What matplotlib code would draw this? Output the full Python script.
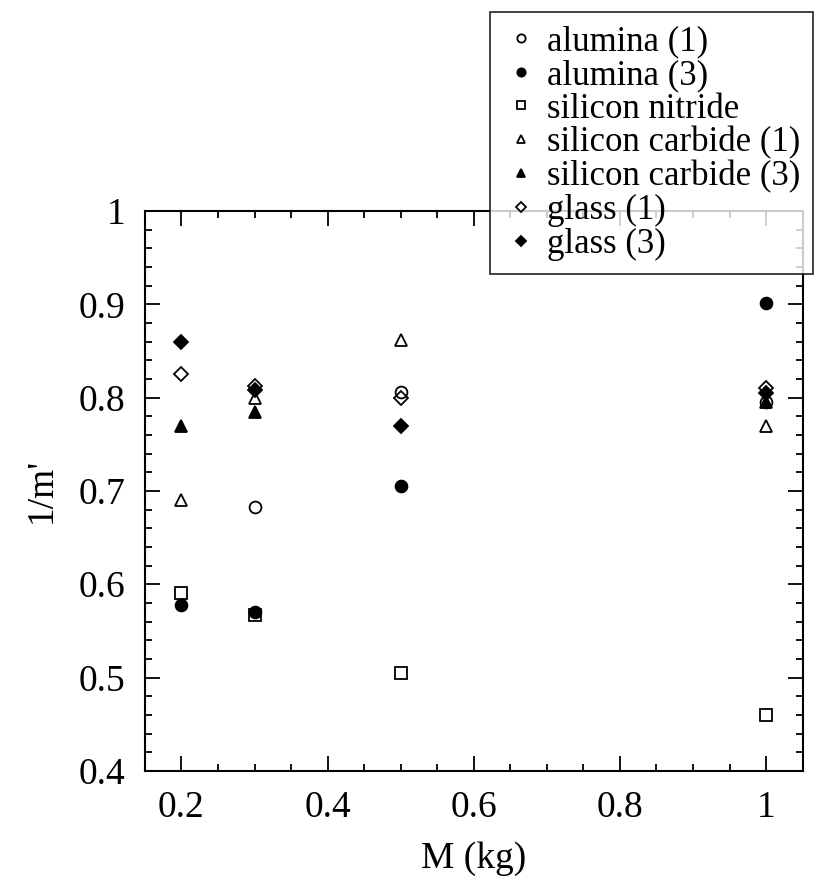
import numpy as np
import matplotlib
matplotlib.use('Agg')
import matplotlib.pyplot as plt
from matplotlib.ticker import MultipleLocator

plt.rcParams['font.family'] = ['Liberation Serif', 'DejaVu Serif']

# mass M (kg)
mass = [0.2, 0.3, 0.5, 1.0]

# 1/m' values (nan = not visible)
alumina_1 = [np.nan, 0.683, 0.806, 0.795]
alumina_3 = [0.578, 0.570, 0.705, 0.901]
silicon_nitride = [0.591, 0.567, 0.505, 0.460]
sic_1 = [0.690, 0.800, 0.862, 0.770]
sic_3 = [0.770, 0.785, np.nan, 0.795]
glass_1 = [0.825, 0.812, 0.800, 0.810]
glass_3 = [0.860, 0.808, 0.770, 0.805]

series = [
    ('alumina (1)', alumina_1, 'o', 'none'),
    ('alumina (3)', alumina_3, 'o', 'black'),
    ('silicon nitride', silicon_nitride, 's', 'none'),
    ('silicon carbide (1)', sic_1, '^', 'none'),
    ('silicon carbide (3)', sic_3, '^', 'black'),
    ('glass (1)', glass_1, 'D', 'none'),
    ('glass (3)', glass_3, 'D', 'black'),
]

fig = plt.figure(figsize=(8.19, 8.81), dpi=100)
ax = fig.add_axes([0.177, 0.125, 0.803, 0.6355])

for label, vals, mk, fc in series:
    ms = 7 if mk == 'D' else 8.5
    ax.plot(mass, vals, linestyle='none', marker=mk, markersize=ms,
            markerfacecolor=fc, markeredgecolor='black', markeredgewidth=1.3,
            color='black', label=label)

ax.set_xlim(0.15, 1.05)
ax.set_ylim(0.4, 1.0)
ax.xaxis.set_major_locator(MultipleLocator(0.2))
ax.xaxis.set_minor_locator(MultipleLocator(0.05))
ax.yaxis.set_major_locator(MultipleLocator(0.1))
ax.yaxis.set_minor_locator(MultipleLocator(0.02))
ax.xaxis.set_major_formatter(plt.FuncFormatter(lambda v, p: f'{v:g}'))
ax.yaxis.set_major_formatter(plt.FuncFormatter(lambda v, p: f'{v:g}'))

ax.tick_params(which='both', direction='in', top=True, right=True, width=1.3)
ax.tick_params(which='major', length=11, labelsize=27, pad=14)
ax.tick_params(which='minor', length=5)
for s in ax.spines.values():
    s.set_linewidth(1.5)

ax.set_xlabel('M (kg)', fontsize=27, labelpad=12)
ax.set_ylabel("1/m'", fontsize=27, labelpad=14)

leg = fig.legend(loc='upper left', bbox_to_anchor=(490 / 819, 1 - 12 / 881),
                 borderaxespad=0, fontsize=25, markerscale=0.7,
                 handlelength=1.0, handletextpad=0.25, labelspacing=0.02,
                 borderpad=0.38, frameon=True, fancybox=False,
                 edgecolor='black')
leg.get_frame().set_linewidth(1.3)
leg.set_zorder(5)

fig.savefig('out.png', dpi=100)
